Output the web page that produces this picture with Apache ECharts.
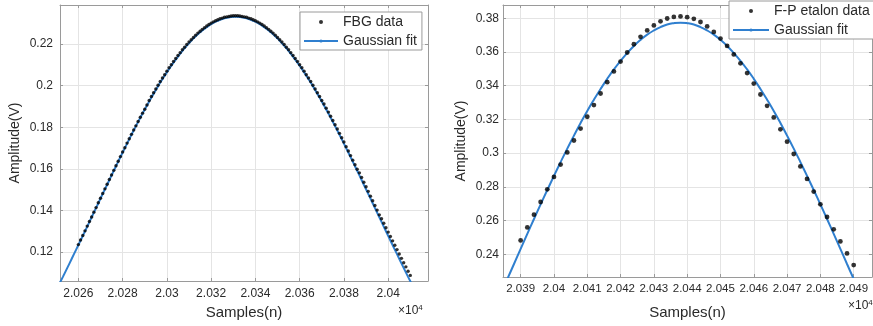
<!DOCTYPE html>
<html><head><meta charset="utf-8">
<script src="https://cdn.jsdelivr.net/npm/echarts@6/dist/echarts.min.js"></script>
<style>html,body{margin:0;padding:0;background:#fff}#c{width:873px;height:326px}</style>
</head><body><div id="c"></div>
<script>
// ---------- Left panel: FBG ----------
const fbgStart = 20260, fbgStep = 1;
const fbgData = [
0.1236,0.1258,0.1280,0.1302,0.1325,0.1347,0.1369,0.1392,0.1414,0.1437,0.1459,0.1482,0.1504,0.1526,0.1549,0.1571,
0.1593,0.1615,0.1637,0.1659,0.1681,0.1702,0.1724,0.1745,0.1766,0.1787,0.1807,0.1828,0.1848,0.1868,0.1887,0.1907,
0.1929,0.1948,0.1966,0.1984,0.2002,0.2020,0.2037,0.2053,0.2070,0.2086,0.2101,0.2116,0.2131,0.2145,0.2159,0.2173,
0.2185,0.2198,0.2210,0.2221,0.2232,0.2243,0.2253,0.2262,0.2271,0.2279,0.2287,0.2294,0.2301,0.2307,0.2312,0.2317,
0.2322,0.2325,0.2329,0.2331,0.2333,0.2335,0.2336,0.2336,0.2336,0.2335,0.2333,0.2331,0.2329,0.2325,0.2322,0.2317,
0.2312,0.2307,0.2301,0.2294,0.2287,0.2279,0.2271,0.2262,0.2253,0.2243,0.2232,0.2221,0.2210,0.2198,0.2185,0.2173,
0.2159,0.2145,0.2131,0.2116,0.2101,0.2086,0.2070,0.2053,0.2037,0.2020,0.2002,0.1984,0.1966,0.1948,0.1929,
0.1912,0.1892,0.1873,0.1853,0.1833,0.1812,0.1792,0.1771,0.1750,0.1729,0.1707,0.1686,0.1664,0.1642,0.1620,0.1598,
0.1581,0.1559,0.1536,0.1514,0.1492,0.1469,0.1447,0.1424,0.1402,0.1379,
0.1360,0.1339,0.1317,0.1296,0.1275,0.1254,0.1233,0.1212,0.1191,0.1170,0.1149,0.1129,0.1108,0.1088
];
const fbgFitStart = 20251, fbgFitStep = 2;
const fbgFit = [
0.1039,0.1081,0.1124,0.1168,0.1212,0.1256,0.1300,0.1345,0.1390,0.1435,0.1480,0.1524,0.1569,0.1613,0.1657,0.1700,
0.1743,0.1785,0.1826,0.1866,0.1905,0.1943,0.1979,0.2015,0.2048,0.2081,0.2111,0.2140,0.2168,0.2193,0.2216,0.2238,
0.2257,0.2274,0.2289,0.2302,0.2312,0.2320,0.2326,0.2330,0.2331,
0.2330,0.2326,0.2320,0.2312,0.2302,0.2289,0.2274,0.2257,0.2238,0.2216,0.2193,0.2168,0.2140,0.2111,0.2081,0.2048,
0.2015,0.1979,0.1943,0.1905,0.1866,0.1826,0.1785,0.1743,0.1700,0.1657,0.1613,0.1569,0.1524,0.1480,0.1435,0.1390,
0.1345,0.1300,0.1256,0.1212,0.1168,0.1124,0.1081,0.1039
];
const leftXTicks = [20260,20280,20300,20320,20340,20360,20380,20400];
const leftYTicks = [0.12,0.14,0.16,0.18,0.20,0.22];
const leftXRange = [20251.7, 20418];
const leftYRange = [0.1061, 0.2388];

// ---------- Right panel: F-P etalon ----------
const fpStart = 20390, fpStep = 2;
const fpData = [
0.2482,0.2559,0.2635,0.2710,0.2785,0.2859,0.2932,0.3004,0.3075,0.3146,0.3216,0.3285,0.3354,0.3421,0.3485,0.3543,
0.3597,0.3646,0.3690,0.3728,0.3758,0.3782,0.3799,0.3808,0.3811,0.3807,0.3797,0.3778,0.3752,0.3719,0.3680,0.3636,
0.3586,0.3533,0.3475,0.3413,0.3348,0.3281,0.3212,0.3141,0.3068,0.2995,0.2921,0.2847,0.2772,0.2696,0.2621,0.2548,
0.2476,0.2405,0.2336
];
const fpFitStart = 20384, fpFitStep = 2;
const fpFit = [
0.2164,0.2253,0.2342,0.2432,0.2521,0.2609,0.2696,0.2781,0.2865,0.2947,0.3027,0.3104,0.3179,0.3250,0.3317,0.3381,
0.3441,0.3497,0.3548,0.3594,0.3636,0.3672,0.3703,0.3728,0.3748,0.3763,0.3771,0.3774,
0.3771,0.3763,0.3748,0.3728,0.3703,0.3672,0.3636,0.3594,0.3548,0.3497,0.3441,0.3381,0.3317,0.3250,0.3179,0.3104,
0.3027,0.2947,0.2865,0.2781,0.2696,0.2609,0.2521,0.2432,0.2342,0.2253,0.2164
];
const rightXTicks = [20390,20400,20410,20420,20430,20440,20450,20460,20470,20480,20490];
const rightYTicks = [0.24,0.26,0.28,0.30,0.32,0.34,0.36,0.38];
const rightXRange = [20384.7, 20495.5];
const rightYRange = [0.2265, 0.3879];

// ---------- build ----------
const pairs = (start, step, arr) => arr.map((v, i) => [start + i * step, v]);
const FONT = "'Liberation Sans', Arial, sans-serif";
const AX = '#9a9a9a', GRIDC = '#e4e4e4', TXT = '#2a2a2a', BLUE = '#2f7fcf';
const fmtX = v => String(parseFloat((v / 1e4).toFixed(4)));
const fmtY = v => String(parseFloat(v.toFixed(3)));

function xAxes(g, range, ticks, nameGap, margin, fs) {
  return [
    { gridIndex: g, type: 'value', min: range[0], max: range[1], position: 'bottom',
      axisLine: { show: true, onZero: false, lineStyle: { color: AX, width: 1 } },
      axisTick: { show: true, inside: true, length: 3, customValues: ticks, lineStyle: { color: AX } },
      axisLabel: { customValues: ticks, formatter: fmtX, color: TXT, fontSize: fs, fontFamily: FONT, margin: margin },
      splitLine: { show: true, lineStyle: { color: GRIDC, width: 1 } },
      name: 'Samples(n)', nameLocation: 'middle', nameGap: nameGap,
      nameTextStyle: { fontSize: 15, color: TXT, fontFamily: FONT } },
    { gridIndex: g, type: 'value', min: range[0], max: range[1], position: 'top',
      axisLine: { show: true, onZero: false, lineStyle: { color: AX, width: 1 } },
      axisTick: { show: true, inside: true, length: 3, customValues: ticks, lineStyle: { color: AX } },
      axisLabel: { show: false }, splitLine: { show: false } }
  ];
}
function yAxes(g, range, ticks, nameGap, margin) {
  return [
    { gridIndex: g, type: 'value', min: range[0], max: range[1], position: 'left',
      axisLine: { show: true, onZero: false, lineStyle: { color: AX, width: 1 } },
      axisTick: { show: true, inside: true, length: 3, customValues: ticks, lineStyle: { color: AX } },
      axisLabel: { customValues: ticks, formatter: fmtY, color: TXT, fontSize: 12, fontFamily: FONT, margin: margin },
      splitLine: { show: true, lineStyle: { color: GRIDC, width: 1 } },
      name: 'Amplitude(V)', nameLocation: 'middle', nameGap: nameGap, nameRotate: 90,
      nameTextStyle: { fontSize: 14, color: TXT, fontFamily: FONT } },
    { gridIndex: g, type: 'value', min: range[0], max: range[1], position: 'right',
      axisLine: { show: true, onZero: false, lineStyle: { color: AX, width: 1 } },
      axisTick: { show: true, inside: true, length: 3, customValues: ticks, lineStyle: { color: AX } },
      axisLabel: { show: false }, splitLine: { show: false } }
  ];
}

const chart = echarts.init(document.getElementById('c'), null, { renderer: 'canvas' });
chart.setOption({
  animation: false,
  backgroundColor: '#fff',
  textStyle: { fontFamily: FONT },
  grid: [
    { left: 60, top: 5, width: 368, height: 276 },
    { left: 503, top: 5, width: 369, height: 272 }
  ],
  xAxis: [...xAxes(0, leftXRange, leftXTicks, 24, 7, 12), ...xAxes(1, rightXRange, rightXTicks, 28, 6, 11.5)],
  yAxis: [...yAxes(0, leftYRange, leftYTicks, 38, 7), ...yAxes(1, rightYRange, rightYTicks, 35, 4)],
  legend: [
    { left: 300, top: 12, orient: 'vertical', itemWidth: 34, itemHeight: 4, itemGap: 5,
      padding: [3, 5, 2, 3], backgroundColor: '#fff', borderColor: AX, borderWidth: 1,
      textStyle: { fontSize: 14, color: TXT, fontFamily: FONT },
      data: [{ name: 'FBG data', icon: 'circle' }, { name: 'Gaussian fit' }] },
    { left: 729, top: 1, orient: 'vertical', itemWidth: 36, itemHeight: 4, itemGap: 5,
      padding: [3, 20, 2, 3], backgroundColor: '#fff', borderColor: AX, borderWidth: 1,
      textStyle: { fontSize: 14, color: TXT, fontFamily: FONT },
      data: [{ name: 'F-P etalon data', icon: 'circle' }, { name: 'Gaussian fit ' }] }
  ],
  graphic: [
    { type: 'text', left: 398, top: 304, style: { text: '×10{s|4}', fontSize: 12, fill: TXT, fontFamily: FONT,
      rich: { s: { fontSize: 8, fill: TXT, verticalAlign: 'top', padding: [0, 0, 6, 0] } } } },
    { type: 'text', left: 848, top: 299, style: { text: '×10{s|4}', fontSize: 12, fill: TXT, fontFamily: FONT,
      rich: { s: { fontSize: 8, fill: TXT, verticalAlign: 'top', padding: [0, 0, 6, 0] } } } }
  ],
  series: [
    { name: 'Gaussian fit', type: 'line', xAxisIndex: 0, yAxisIndex: 0, data: pairs(fbgFitStart, fbgFitStep, fbgFit),
      symbol: 'none', smooth: true, lineStyle: { color: BLUE, width: 2 }, itemStyle: { color: BLUE }, z: 2 },
    { name: 'FBG data', type: 'scatter', xAxisIndex: 0, yAxisIndex: 0, data: pairs(fbgStart, fbgStep, fbgData),
      symbolSize: 3.4, itemStyle: { color: '#000' }, z: 3 },
    { name: 'Gaussian fit ', type: 'line', xAxisIndex: 2, yAxisIndex: 2, data: pairs(fpFitStart, fpFitStep, fpFit),
      symbol: 'none', smooth: true, lineStyle: { color: BLUE, width: 2 }, itemStyle: { color: BLUE }, z: 2 },
    { name: 'F-P etalon data', type: 'scatter', xAxisIndex: 2, yAxisIndex: 2, data: pairs(fpStart, fpStep, fpData),
      symbolSize: 4.8, itemStyle: { color: '#000' }, z: 3 }
  ]
});
</script></body></html>
